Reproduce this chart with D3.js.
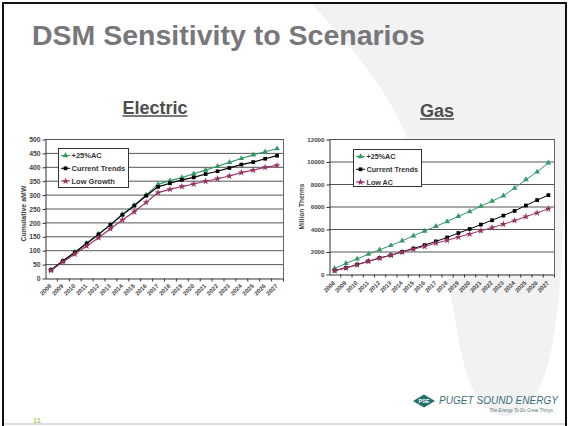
<!DOCTYPE html>
<html>
<head>
<meta charset="utf-8">
<script src="https://d3js.org/d3.v7.min.js"></script>
<style>
  body { margin: 0; background: #fff; }
  svg { display: block; font-family: "Liberation Sans", Arial, sans-serif; }
</style>
</head>
<body>
<svg id="slide" width="569" height="426"></svg>
<script>
// chart values
const years = ["2008","2009","2010","2011","2012","2013","2014","2015","2016","2017",
               "2018","2019","2020","2021","2022","2023","2024","2025","2026","2027"]

const elecAC  = [29, 61, 93, 125, 158, 192, 229, 262, 298, 337, 350, 361, 375, 388, 402, 416, 430, 443, 454, 465]
const elecCT  = [29, 61, 92, 124, 157, 191, 227, 260, 296, 328, 341, 353, 362, 374, 384, 396, 408, 417, 429, 440]
const elecLow = [27, 58, 86, 115, 145, 177, 209, 238, 272, 307, 319, 329, 338, 348, 357, 367, 379, 388, 398, 405]

const gasAC  = [480, 950, 1340, 1760, 2150, 2540, 2950, 3400, 3820, 4240, 4660, 5130, 5550, 6030, 6480, 6950, 7640, 8390, 9070, 9880]
const gasCT  = [300, 540, 840, 1130, 1430, 1670, 1970, 2270, 2570, 2900, 3250, 3640, 4000, 4390, 4780, 5190, 5610, 6090, 6570, 7010]
const gasLow = [300, 540, 810, 1130, 1400, 1670, 1940, 2210, 2450, 2750, 2990, 3280, 3550, 3850, 4120, 4420, 4750, 5100, 5430, 5790]

const elecTicks = [0, 50, 100, 150, 200, 250, 300, 350, 400, 450, 500]
const gasTicks = [0, 2000, 4000, 6000, 8000, 10000, 12000]

const elecNames = ["+25%AC", "Current Trends", "Low Growth"]
const gasNames = ["+25%AC", "Current Trends", "Low AC"]

const colors = ["#339966", "#000000", "#993366"]

let svg = d3.select("#slide")

// background sweep on the right
svg.append("path")
    .attr("d", d3.line().curve(d3.curveBasis)([[312, 4], [392, 92], [432, 200], [456, 320], [472, 424], [566, 424], [566, 4]]))
    .attr("fill", "#f2f2f2")

// frame
svg.append("rect")
    .attr("x", 3).attr("y", 3).attr("width", 563).attr("height", 425)
    .attr("fill", "none").attr("stroke", "#111").attr("stroke-width", 2)
svg.append("line")
    .attr("x1", 4).attr("x2", 565).attr("y1", 424).attr("y2", 424)
    .attr("stroke", "#bbb")

svg.append("text")
    .attr("x", 32).attr("y", 44.5)
    .attr("font-size", 28.5).attr("font-weight", "bold")
    .attr("fill", "#77777b")
    .text("DSM Sensitivity to Scenarios")

function markerPath(i) {
    if (i == 0) return d3.symbol().type(d3.symbolTriangle).size(14)()
    if (i == 1) return d3.symbol().type(d3.symbolSquare).size(14)()
    return d3.symbol().type(d3.symbolStar).size(16)()
}

function drawChart(cfg) {
    let g = svg.append("g")

    // heading
    let head = g.append("text")
        .attr("x", cfg.headX).attr("y", cfg.headY)
        .attr("text-anchor", "middle")
        .attr("font-size", 18).attr("font-weight", "bold")
        .attr("fill", "#4d4d4d")
        .text(cfg.title)
    let w = head.node().getComputedTextLength()
    g.append("line")
        .attr("x1", cfg.headX - w / 2).attr("x2", cfg.headX + w / 2)
        .attr("y1", cfg.headY + 2).attr("y2", cfg.headY + 2)
        .attr("stroke", "#4d4d4d").attr("stroke-width", 1.6)

    let x = d3.scaleBand().domain(years).range([cfg.left, cfg.right]).padding(0)
    let y = d3.scaleLinear().domain([0, d3.max(cfg.ticks)]).range([cfg.bottom, cfg.top])

    g.append("rect")
        .attr("x", cfg.left).attr("y", cfg.top)
        .attr("width", cfg.right - cfg.left).attr("height", cfg.bottom - cfg.top)
        .attr("fill", "#fff")

    // gridlines
    g.append("g").selectAll("line")
        .data(cfg.ticks.slice(1))
        .enter().append("line")
        .attr("x1", cfg.left).attr("x2", cfg.right)
        .attr("y1", d => y(d) + 0.5).attr("y2", d => y(d) + 0.5)
        .attr("stroke", "#555")

    g.append("line")
        .attr("x1", cfg.right + 0.5).attr("x2", cfg.right + 0.5)
        .attr("y1", cfg.top).attr("y2", cfg.bottom)
        .attr("stroke", "#666")

    // y axis
    let yAxis = g.append("g")
        .attr("transform", "translate(" + (cfg.left + 0.5) + ",0.5)")
        .call(d3.axisLeft(y).tickValues(cfg.ticks).tickFormat(d3.format("d"))
            .tickSize(3).tickPadding(2).tickSizeOuter(0))
    yAxis.select(".domain").attr("stroke", "#333")
    yAxis.selectAll(".tick line").attr("stroke", "#333")
    yAxis.selectAll("text")
        .attr("font-size", cfg.yFont).attr("font-weight", "bold")
        .attr("font-family", "Liberation Sans, Arial, sans-serif")
        .attr("fill", "#444")

    // x axis, labels at band centres, ticks on band edges
    let xAxis = g.append("g")
        .attr("transform", "translate(0," + (cfg.bottom + 0.5) + ")")
        .call(d3.axisBottom(x).tickSize(0).tickPadding(0).tickSizeOuter(0))
    xAxis.select(".domain").attr("stroke", "#333")
    xAxis.selectAll("text")
        .attr("font-size", 6).attr("font-weight", "bold")
        .attr("font-family", "Liberation Sans, Arial, sans-serif")
        .attr("fill", "#444")
        .attr("text-anchor", "end")
        .attr("dy", 0)
        .attr("transform", "translate(1," + cfg.labelDrop + ") rotate(-45)")
    xAxis.append("g").selectAll("line")
        .data(years)
        .enter().append("line")
        .attr("x1", d => x(d) + x.bandwidth() + 0.5)
        .attr("x2", d => x(d) + x.bandwidth() + 0.5)
        .attr("y1", 0).attr("y2", 3)
        .attr("stroke", "#333")

    // y title
    g.append("text")
        .attr("transform", "translate(" + cfg.yTitleX + "," + ((cfg.top + cfg.bottom) / 2 + cfg.yTitleShift) + ") rotate(-90)")
        .attr("text-anchor", "middle")
        .attr("font-size", cfg.yTitleFont).attr("font-weight", "bold")
        .attr("fill", "#444")
        .text(cfg.yTitle)

    // series
    let line = d3.line()
        .x((d, i) => x(years[i]) + x.bandwidth() / 2)
        .y(d => y(d))

    cfg.series.forEach(function(s, si) {
        g.append("path")
            .datum(s)
            .attr("d", line)
            .attr("fill", "none")
            .attr("stroke", colors[si])
            .attr("stroke-width", cfg.lineWidth)
        g.append("g").selectAll("path")
            .data(s)
            .enter().append("path")
            .attr("d", markerPath(si))
            .attr("transform", (d, i) => "translate(" + (x(years[i]) + x.bandwidth() / 2) + "," + y(d) + ")")
            .attr("fill", colors[si])
    })

    // legend
    let lg = g.append("g").attr("transform", "translate(" + cfg.legX + "," + cfg.legY + ")")
    lg.append("rect")
        .attr("x", 0.5).attr("y", 0.5)
        .attr("width", cfg.legW).attr("height", cfg.legH)
        .attr("fill", "#fff").attr("stroke", "#333")
    cfg.names.forEach(function(name, i) {
        let cy = 7.5 + i * 12.8
        lg.append("line")
            .attr("x1", 3).attr("x2", 12)
            .attr("y1", cy).attr("y2", cy)
            .attr("stroke", colors[i]).attr("stroke-width", 1)
        lg.append("path")
            .attr("d", markerPath(i))
            .attr("transform", "translate(7.5," + cy + ")")
            .attr("fill", colors[i])
        lg.append("text")
            .attr("x", 13.5).attr("y", cy + 2.7)
            .attr("font-size", cfg.legFont).attr("font-weight", "bold")
            .attr("fill", "#333")
            .text(name)
    })
}

drawChart({
    title: "Electric", headX: 155, headY: 114,
    left: 45, right: 283, top: 139, bottom: 278,
    ticks: elecTicks, yFont: 6.8, labelDrop: 8,
    yTitle: "Cumulative aMW", yTitleX: 26, yTitleShift: 5, yTitleFont: 7,
    series: [elecAC, elecCT, elecLow], names: elecNames, lineWidth: 1.2,
    legX: 58, legY: 148, legW: 70, legH: 39, legFont: 7.5
})

drawChart({
    title: "Gas", headX: 437, headY: 117,
    left: 329, right: 554, top: 139, bottom: 274,
    ticks: gasTicks, yFont: 6.2, labelDrop: 9,
    yTitle: "Million Therms", yTitleX: 304, yTitleShift: 0, yTitleFont: 6.5,
    series: [gasAC, gasCT, gasLow], names: gasNames, lineWidth: 1,
    legX: 353, legY: 149, legW: 68, legH: 37, legFont: 7.2
})

// logo
let logo = svg.append("g")
logo.append("path")
    .attr("d", "M413,401 L424,394.5 L435,401 L424,407.5 Z")
    .attr("fill", "#23706f")
logo.append("text")
    .attr("x", 424).attr("y", 403)
    .attr("text-anchor", "middle")
    .attr("font-size", 5.5).attr("font-weight", "bold")
    .attr("fill", "#fff")
    .text("PSE")
logo.append("text")
    .attr("x", 558).attr("y", 404)
    .attr("text-anchor", "end")
    .attr("font-size", 10).attr("font-style", "italic")
    .attr("fill", "#3b6f78")
    .attr("textLength", 119)
    .text("PUGET SOUND ENERGY")
logo.append("text")
    .attr("x", 553).attr("y", 412)
    .attr("text-anchor", "end")
    .attr("font-size", 4.5).attr("font-style", "italic")
    .attr("fill", "#5a7a80")
    .text("The Energy To Do Great Things")

svg.append("text")
    .attr("x", 33).attr("y", 423)
    .attr("font-size", 7.5).attr("font-weight", "bold")
    .attr("fill", "#a6d46e")
    .text("11")
</script>
</body>
</html>
